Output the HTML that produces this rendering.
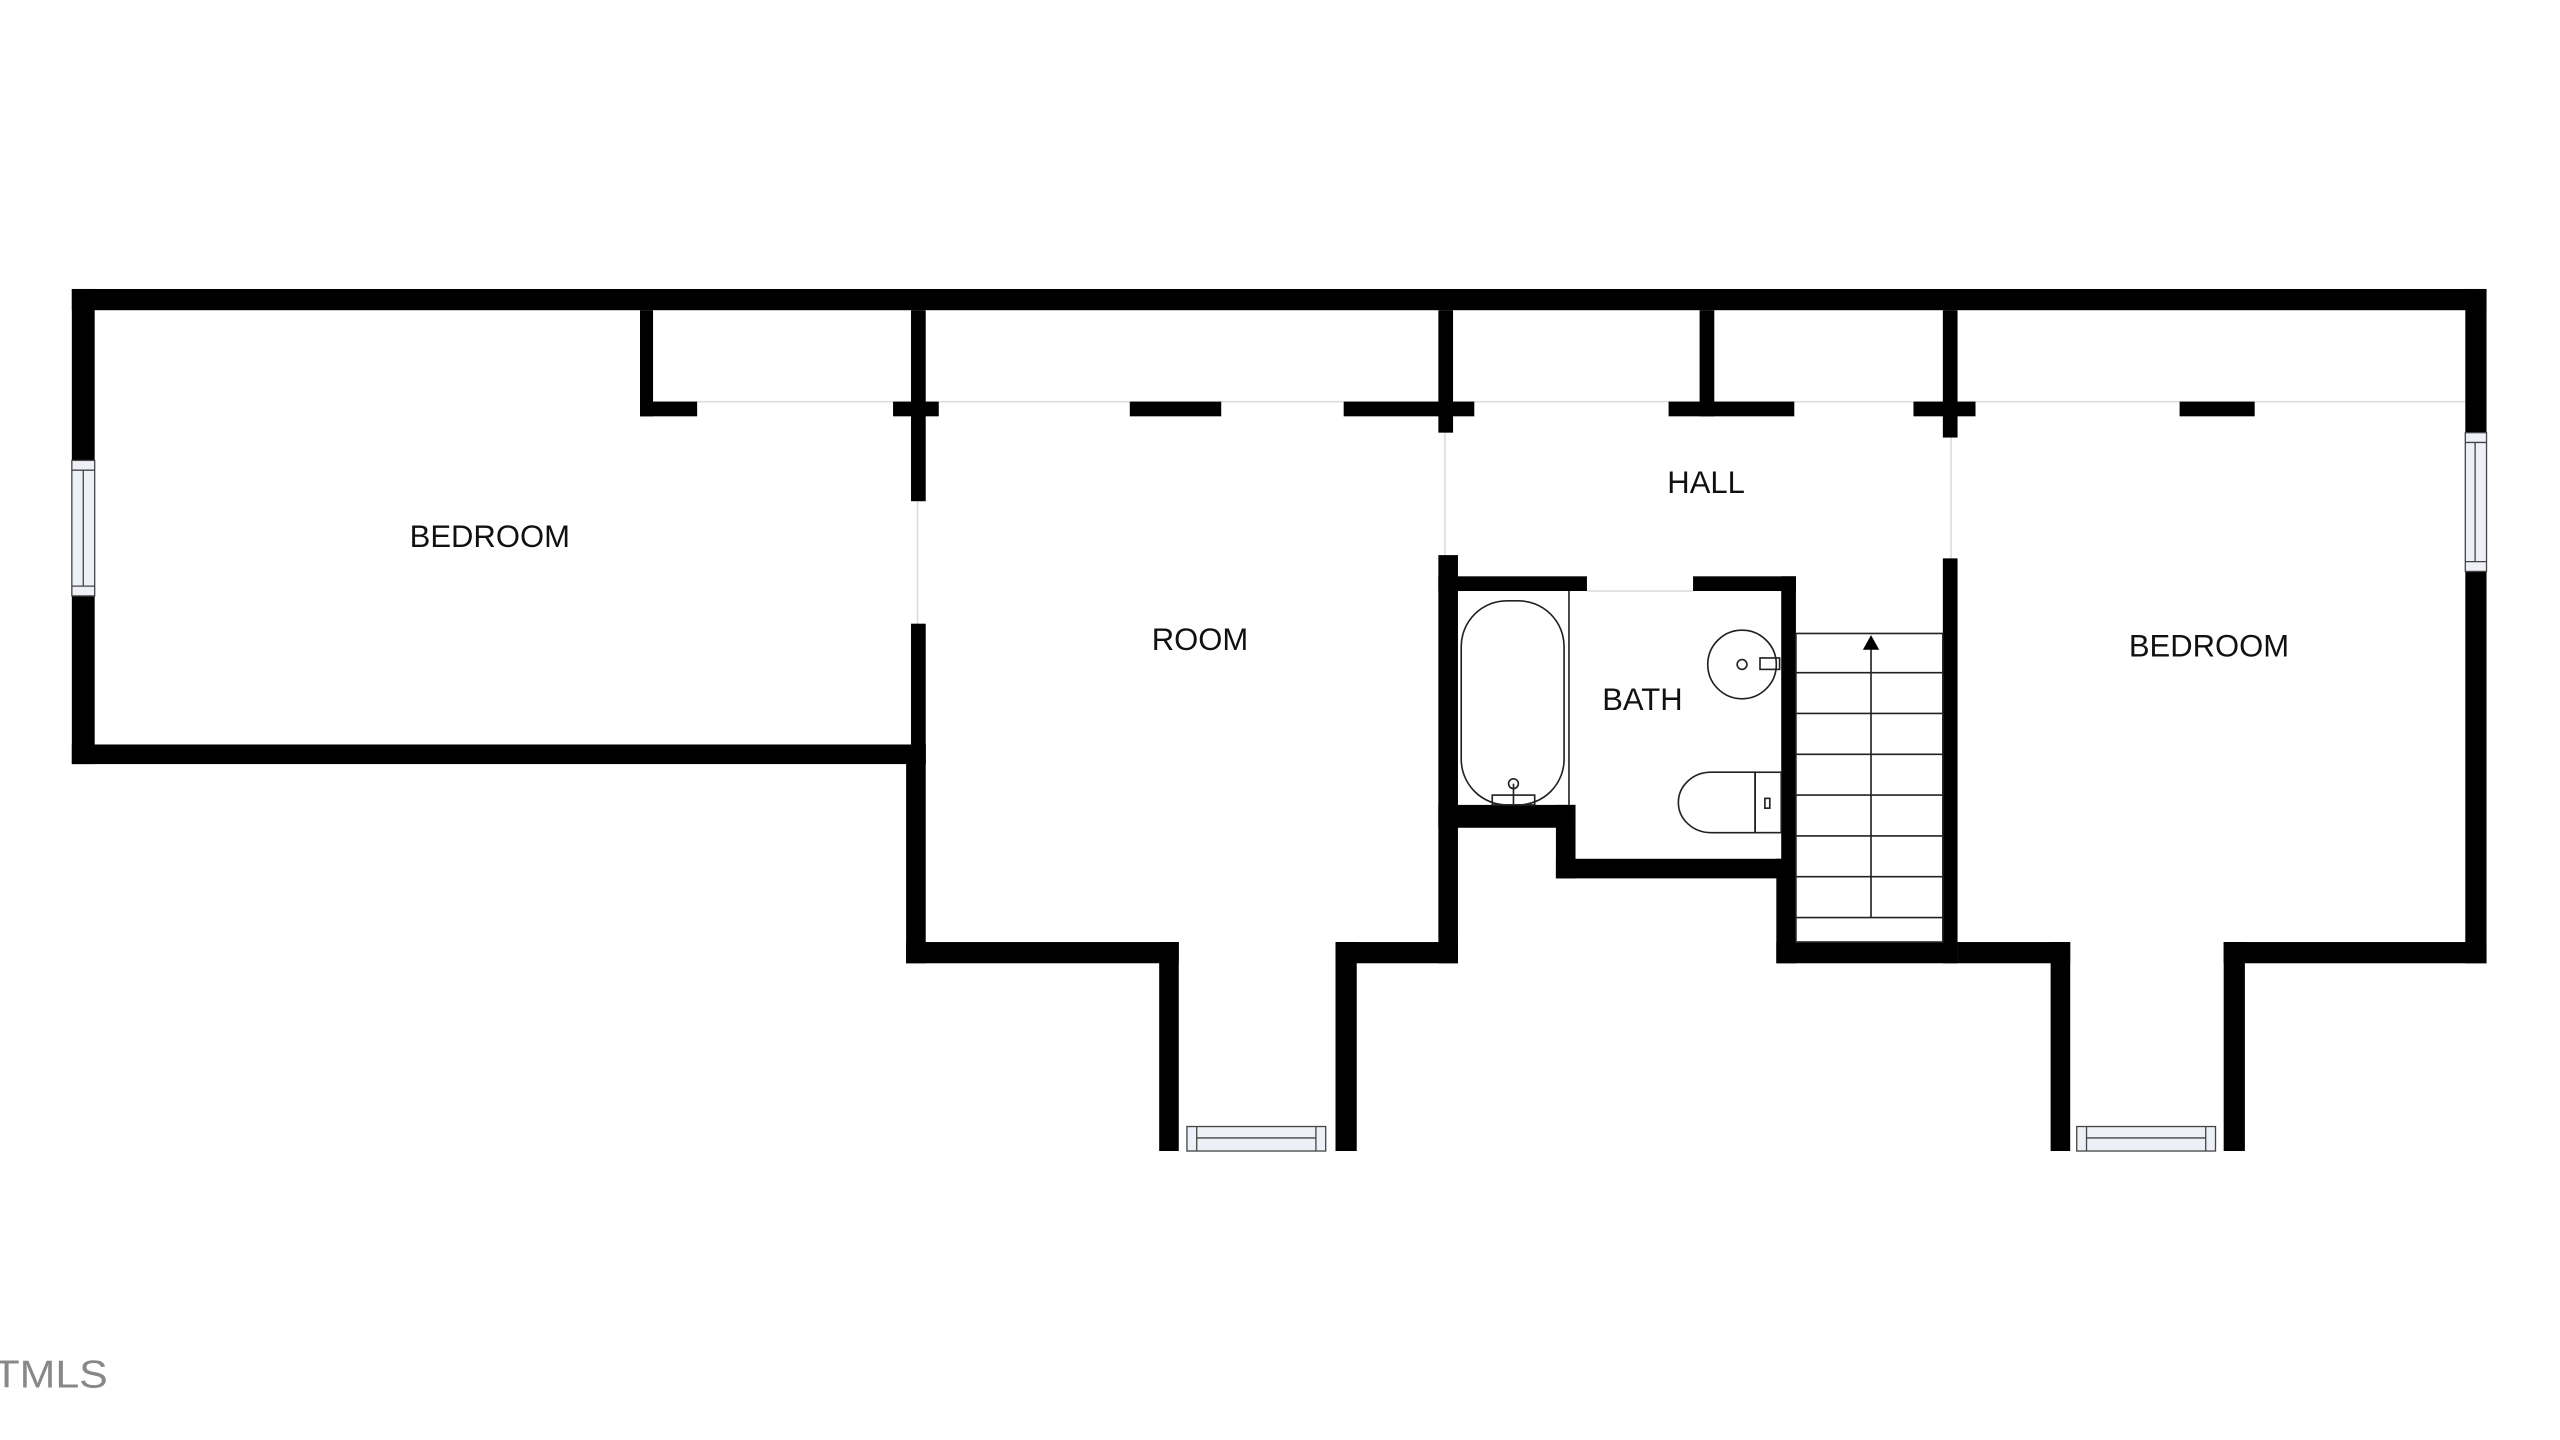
<!DOCTYPE html>
<html><head><meta charset="utf-8"><style>
html,body{margin:0;padding:0;background:#fff;width:2560px;height:1440px;overflow:hidden}
svg{display:block}
text{font-family:"Liberation Sans",sans-serif;fill:#111}
</style></head><body>
<svg width="2560" height="1440" viewBox="0 0 1568 882" preserveAspectRatio="none" xmlns="http://www.w3.org/2000/svg">
<rect width="1568" height="882" fill="#fff"/>
<!-- hairlines across openings -->
<g stroke="#ddd" stroke-width="1" fill="none">
<line x1="400" y1="246" x2="1510" y2="246"/>
<line x1="562" y1="307" x2="562" y2="382"/>
<line x1="885" y1="265" x2="885" y2="340"/>
<line x1="1195" y1="268" x2="1195" y2="342"/>
<line x1="972" y1="362" x2="1037" y2="362"/>
</g>
<g fill="#000">
<!-- outer top -->
<rect x="44" y="177" width="1479" height="13"/>
<!-- left wall -->
<rect x="44" y="177" width="14" height="291"/>
<!-- bedroom bottom -->
<rect x="44" y="456" width="523" height="12"/>
<!-- internal 392 -->
<rect x="392" y="190" width="8" height="65"/>
<rect x="392" y="246" width="35" height="9"/>
<!-- wall 557 -->
<rect x="558" y="190" width="9" height="117"/>
<rect x="547" y="246" width="28" height="9"/>
<rect x="558" y="382" width="9" height="86"/>
<rect x="555" y="456" width="12" height="134"/>
<!-- dashes -->
<rect x="692" y="246" width="56" height="9"/>
<rect x="823" y="246" width="80" height="9"/>
<!-- room bottom -->
<rect x="555" y="577" width="167" height="13"/>
<rect x="710" y="577" width="12" height="128"/>
<rect x="818" y="577" width="13" height="128"/>
<rect x="818" y="577" width="75" height="13"/>
<!-- wall 881 -->
<rect x="881" y="190" width="9" height="75"/>
<rect x="881" y="340" width="12" height="250"/>
<!-- wall 1041 -->
<rect x="1041" y="190" width="9" height="65"/>
<rect x="1022" y="246" width="77" height="9"/>
<!-- wall 1190 -->
<rect x="1190" y="190" width="9" height="78"/>
<rect x="1172" y="246" width="38" height="9"/>
<rect x="1190" y="342" width="9" height="248"/>
<rect x="1335" y="246" width="46" height="9"/>
<!-- right wall -->
<rect x="1510" y="177" width="13" height="413"/>
<rect x="1362" y="577" width="161" height="13"/>
<rect x="1362" y="577" width="13" height="128"/>
<rect x="1256" y="577" width="12" height="128"/>
<rect x="1199" y="577" width="69" height="13"/>
<!-- bath -->
<rect x="881" y="353" width="91" height="9"/>
<rect x="1037" y="353" width="63" height="9"/>
<rect x="1091" y="353" width="9" height="185"/>
<rect x="881" y="493" width="84" height="14"/>
<rect x="953" y="493" width="12" height="45"/>
<rect x="953" y="526" width="147" height="12"/>
<rect x="1088" y="526" width="12" height="64"/>
<rect x="1088" y="577" width="111" height="13"/>
</g>
<!-- windows -->
<g fill="#eef0f8" stroke="#444" stroke-width="0.8">
<rect x="44" y="282" width="14" height="83"/>
<rect x="1510" y="265" width="13" height="85"/>
<rect x="727" y="690" width="85" height="15"/>
<rect x="1272" y="690" width="85" height="15"/>
</g>
<g stroke="#444" stroke-width="0.8">
<line x1="44" y1="288" x2="58" y2="288"/><line x1="44" y1="359" x2="58" y2="359"/><line x1="51" y1="288" x2="51" y2="359"/>
<line x1="1510" y1="271" x2="1523" y2="271"/><line x1="1510" y1="344" x2="1523" y2="344"/><line x1="1516" y1="271" x2="1516" y2="344"/>
<line x1="733" y1="690" x2="733" y2="705"/><line x1="806" y1="690" x2="806" y2="705"/><line x1="733" y1="697" x2="806" y2="697"/>
<line x1="1278" y1="690" x2="1278" y2="705"/><line x1="1351" y1="690" x2="1351" y2="705"/><line x1="1278" y1="697" x2="1351" y2="697"/>
</g>
<!-- fixtures -->
<g fill="none" stroke="#222" stroke-width="1">
<rect x="895" y="368" width="63" height="125" rx="28"/>
<line x1="961" y1="362" x2="961" y2="493"/>
<rect x="914" y="487" width="26" height="6"/>
<line x1="927" y1="480" x2="927" y2="493"/>
<circle cx="927" cy="480" r="3"/>
<circle cx="1067" cy="407" r="21"/>
<circle cx="1067" cy="407" r="3"/>
<rect x="1078" y="403" width="12" height="7"/>
<path d="M1075 473 H1048 A20 18.5 0 0 0 1048 510 H1075 Z"/>
<rect x="1075" y="473" width="16" height="37"/>
<rect x="1081" y="489" width="3" height="6"/>
<!-- stairs -->
<rect x="1100" y="388" width="90" height="189"/>
<line x1="1100" y1="412" x2="1190" y2="412"/>
<line x1="1100" y1="437" x2="1190" y2="437"/>
<line x1="1100" y1="462" x2="1190" y2="462"/>
<line x1="1100" y1="487" x2="1190" y2="487"/>
<line x1="1100" y1="512" x2="1190" y2="512"/>
<line x1="1100" y1="537" x2="1190" y2="537"/>
<line x1="1100" y1="562" x2="1190" y2="562"/>
<line x1="1146" y1="562" x2="1146" y2="395"/>
</g>
<polygon points="1146,389 1141,398 1151,398" fill="#000"/>
<!-- labels -->
<g font-size="19" text-anchor="middle">
<text x="300" y="335">BEDROOM</text>
<text x="735" y="398">ROOM</text>
<text x="1045" y="302">HALL</text>
<text x="1006" y="435">BATH</text>
<text x="1353" y="402">BEDROOM</text>
</g>
<text x="-4" y="850" font-size="24" style="fill:#888;font-weight:300" textLength="70" lengthAdjust="spacingAndGlyphs">TMLS</text>
</svg>
</body></html>
